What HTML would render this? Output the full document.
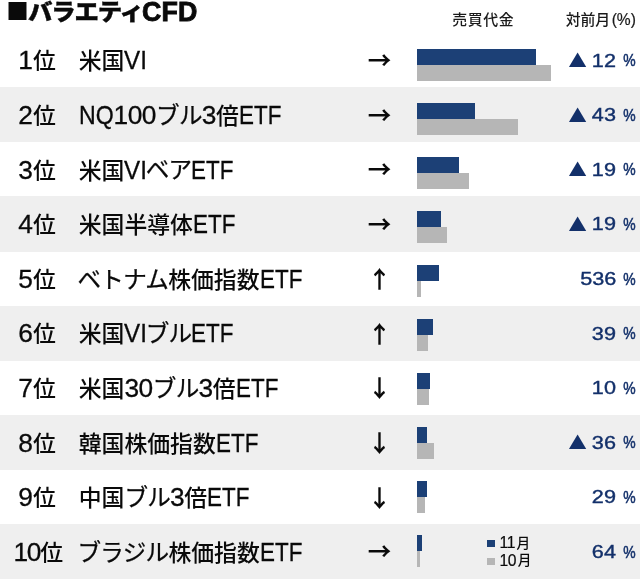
<!DOCTYPE html>
<html lang="ja"><head><meta charset="utf-8"><title>バラエティCFD</title>
<style>
html,body{margin:0;padding:0;background:#fff;}
body{width:640px;height:580px;position:relative;overflow:hidden;font-family:"Liberation Sans","Noto Sans CJK JP",sans-serif;color:#0a0a0a;}
.abs{position:absolute;white-space:nowrap;}
.title{left:0;top:0;width:300px;height:32px;font-weight:900;color:#0a0a0a;line-height:40px;}
.title span{position:absolute;white-space:nowrap;}
.title .sq{font-family:"Noto Sans CJK JP",sans-serif;font-size:22.5px;left:6.3px;top:-9.9px;}
.title .k{-webkit-text-stroke:0.4px #0a0a0a;font-size:22.8px;letter-spacing:-1.1px;left:27.6px;top:-8.4px;transform:scaleX(1.07);transform-origin:0 50%;}
.title .l{font-size:27.6px;font-weight:bold;-webkit-text-stroke:0.9px #0a0a0a;letter-spacing:0.2px;left:141.6px;top:-8.1px;transform:scaleX(.97);transform-origin:0 50%;}
.hd{font-size:14.9px;letter-spacing:0.25px;color:#1a1a1a;top:9.6px;line-height:20px;font-weight:500;}
.hd .l{font-size:15.6px;margin-left:1.6px;letter-spacing:0;position:relative;top:0.6px;font-weight:400;-webkit-text-stroke:0.2px #1a1a1a;}
.row{position:absolute;left:0;width:640px;height:54.615px;}
.row.g{background:#efefef;height:55.4px;}
.t{font-size:22.85px;line-height:40px;top:7.95px;font-weight:500;}
.t .l,.t .e{font-size:26.3px;line-height:40px;font-weight:400;-webkit-text-stroke:0.3px #0a0a0a;}
.name .l{letter-spacing:-0.4px;}
.t .k{font-size:23.6px;letter-spacing:-0.75px;line-height:40px;font-weight:400;-webkit-text-stroke:0.25px #0a0a0a;position:relative;top:-0.3px;}
.t .e{display:inline-block;transform-origin:0 50%;}
.rank{left:-1px;width:76px;text-align:center;}
.rank.r10{left:0.3px;}
.rank.r10 .l{letter-spacing:-1.3px;}
.name{left:78.7px;}
.arr{left:359.5px;width:40px;text-align:center;font-family:"Noto Sans CJK JP",sans-serif;font-size:23.5px;font-weight:700;line-height:30px;top:12.2px;}
.arr.h{top:11.5px;}
.b1{position:absolute;left:416.9px;height:15.9px;background:#1c4076;}
.b2{position:absolute;left:416.9px;height:15.8px;background:#b6b6b6;}
.p{color:#13306a;line-height:30px;top:13.1px;}
.num{right:24.1px;font-size:18.8px;transform:scaleX(1.15);transform-origin:100% 50%;-webkit-text-stroke:0.4px #13306a;}
.pc{right:4.3px;font-size:16.6px;transform:scaleX(.84);transform-origin:100% 50%;-webkit-text-stroke:0.5px #13306a;top:13.7px;}
.tri{left:563px;font-size:25px;transform:scale(1.18,1);transform-origin:0 50%;top:10.6px;}
.lg{left:487.4px;font-size:13.6px;line-height:30px;color:#0a0a0a;font-weight:500;}
.lg .sw{display:inline-block;width:7.6px;height:7.4px;margin-right:4.6px;position:relative;top:-1px;}
.lg .m{position:relative;top:-0.8px;}
.lg .l{font-size:15.7px;font-weight:400;letter-spacing:-0.5px;margin-right:1.6px;-webkit-text-stroke:0.2px #0a0a0a;}
</style></head><body>
<div class="abs title"><span class="sq">■</span><span class="k">バラエティ</span><span class="l">CFD</span></div>
<div class="abs hd" style="left:452.2px;letter-spacing:0.65px">売買代金</div>
<div class="abs hd" style="left:565.8px;letter-spacing:-0.15px">対前月<span class="l">(%)</span></div>

<div class="row" style="top:32.45px">
<div class="abs t rank"><span class="l">1</span>位</div><div class="abs t name">米国<span class="e" style="transform:scaleX(0.92);margin-right:-3.49px">VI</span></div><div class="abs arr h">→</div>
<div class="b2" style="width:134px;top:32.65px"></div><div class="b1" style="width:118.8px;top:16.75px"></div>
<div class="abs p tri">▲</div>
<div class="abs p num">12</div><div class="abs p pc">%</div>
</div>
<div class="row g" style="top:87.06px">
<div class="abs t rank"><span class="l">2</span>位</div><div class="abs t name"><span class="e" style="transform:scaleX(0.88);margin-right:-4.73px">NQ</span><span class="l">100</span><span class="k">ブル</span><span class="l">3</span>倍<span class="e" style="transform:scaleX(0.853);margin-right:-7.30px">ETF</span></div><div class="abs arr h">→</div>
<div class="b2" style="width:101.5px;top:32.04px"></div><div class="b1" style="width:57.9px;top:16.14px"></div>
<div class="abs p tri">▲</div>
<div class="abs p num">43</div><div class="abs p pc">%</div>
</div>
<div class="row" style="top:141.68px">
<div class="abs t rank"><span class="l">3</span>位</div><div class="abs t name">米国<span class="e" style="transform:scaleX(0.92);margin-right:-3.49px">VI</span><span class="k">ベア</span><span class="e" style="transform:scaleX(0.853);margin-right:-7.30px">ETF</span></div><div class="abs arr h">→</div>
<div class="b2" style="width:52.1px;top:31.42px"></div><div class="b1" style="width:41.9px;top:15.52px"></div>
<div class="abs p tri">▲</div>
<div class="abs p num">19</div><div class="abs p pc">%</div>
</div>
<div class="row g" style="top:196.30px">
<div class="abs t rank"><span class="l">4</span>位</div><div class="abs t name">米国半導体<span class="e" style="transform:scaleX(0.853);margin-right:-7.30px">ETF</span></div><div class="abs arr h">→</div>
<div class="b2" style="width:30.3px;top:30.80px"></div><div class="b1" style="width:24.3px;top:14.90px"></div>
<div class="abs p tri">▲</div>
<div class="abs p num">19</div><div class="abs p pc">%</div>
</div>
<div class="row" style="top:250.91px">
<div class="abs t rank"><span class="l">5</span>位</div><div class="abs t name"><span class="k" style="margin-left:-1.2px">ベトナム</span>株価指数<span class="e" style="transform:scaleX(0.853);margin-right:-7.30px">ETF</span></div><div class="abs arr">↑</div>
<div class="b2" style="width:3.9px;top:30.19px"></div><div class="b1" style="width:22.2px;top:14.29px"></div>
<div class="abs p num">536</div><div class="abs p pc">%</div>
</div>
<div class="row g" style="top:305.52px">
<div class="abs t rank"><span class="l">6</span>位</div><div class="abs t name">米国<span class="e" style="transform:scaleX(0.92);margin-right:-3.49px">VI</span><span class="k">ブル</span><span class="e" style="transform:scaleX(0.853);margin-right:-7.30px">ETF</span></div><div class="abs arr">↑</div>
<div class="b2" style="width:11.2px;top:29.58px"></div><div class="b1" style="width:15.9px;top:13.68px"></div>
<div class="abs p num">39</div><div class="abs p pc">%</div>
</div>
<div class="row" style="top:360.14px">
<div class="abs t rank"><span class="l">7</span>位</div><div class="abs t name">米国<span class="l">30</span><span class="k">ブル</span><span class="l">3</span>倍<span class="e" style="transform:scaleX(0.853);margin-right:-7.30px">ETF</span></div><div class="abs arr">↓</div>
<div class="b2" style="width:12.4px;top:28.96px"></div><div class="b1" style="width:13.6px;top:13.06px"></div>
<div class="abs p num">10</div><div class="abs p pc">%</div>
</div>
<div class="row g" style="top:414.75px">
<div class="abs t rank"><span class="l">8</span>位</div><div class="abs t name">韓国株価指数<span class="e" style="transform:scaleX(0.853);margin-right:-7.30px">ETF</span></div><div class="abs arr">↓</div>
<div class="b2" style="width:16.9px;top:28.34px"></div><div class="b1" style="width:10.5px;top:12.44px"></div>
<div class="abs p tri">▲</div>
<div class="abs p num">36</div><div class="abs p pc">%</div>
</div>
<div class="row" style="top:469.37px">
<div class="abs t rank"><span class="l">9</span>位</div><div class="abs t name">中国<span class="k">ブル</span><span class="l">3</span>倍<span class="e" style="transform:scaleX(0.853);margin-right:-7.30px">ETF</span></div><div class="abs arr">↓</div>
<div class="b2" style="width:7.9px;top:27.73px"></div><div class="b1" style="width:10px;top:11.83px"></div>
<div class="abs p num">29</div><div class="abs p pc">%</div>
</div>
<div class="row g" style="top:523.99px">
<div class="abs t rank r10"><span class="l">10</span>位</div><div class="abs t name"><span class="k" style="margin-left:-1.2px">ブラジル</span>株価指数<span class="e" style="transform:scaleX(0.853);margin-right:-7.30px">ETF</span></div><div class="abs arr h">→</div>
<div class="b2" style="width:3.3px;top:27.12px"></div><div class="b1" style="width:5.4px;top:11.22px"></div>
<div class="abs p num">64</div><div class="abs p pc">%</div>
</div>
<div class="abs lg" style="top:528.3px"><span class="sw" style="background:#1c4076"></span><span class="l">11</span><span class="m">月</span></div>
<div class="abs lg" style="top:546px"><span class="sw" style="background:#b6b6b6"></span><span class="l">10</span><span class="m">月</span></div>
</body></html>
